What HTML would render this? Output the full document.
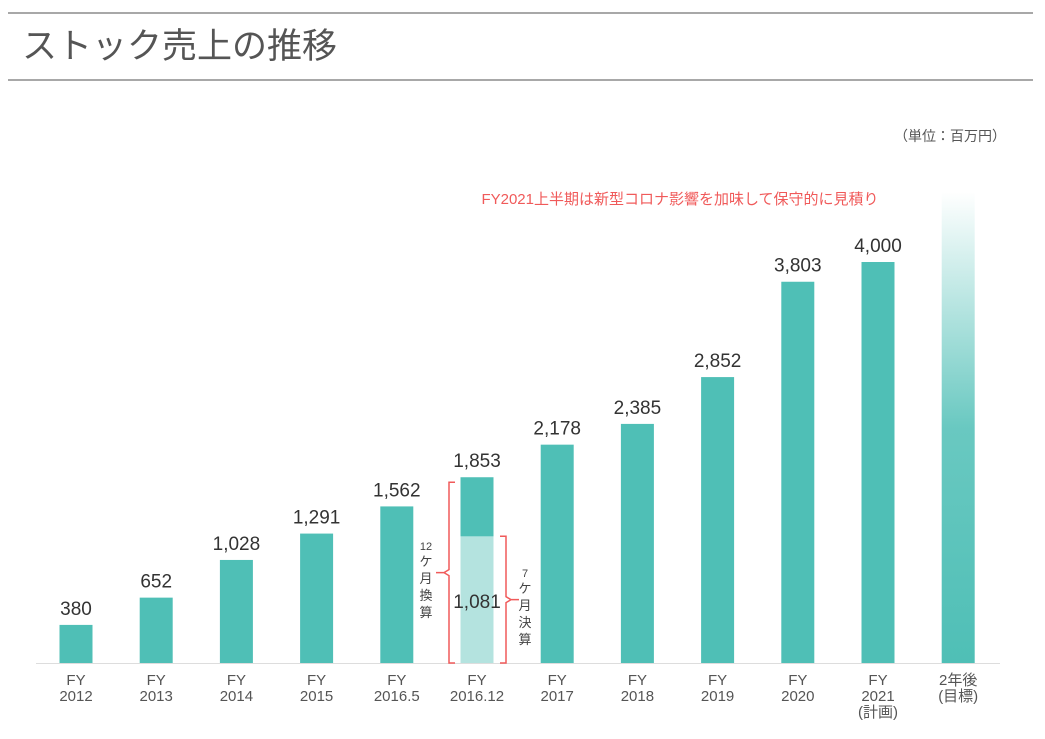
<!DOCTYPE html>
<html><head><meta charset="utf-8">
<style>
html,body{margin:0;padding:0;background:#fff;}
body{width:1045px;height:734px;overflow:hidden;font-family:"Liberation Sans","Noto Sans CJK JP",sans-serif;}
svg text{font-family:"Liberation Sans","Noto Sans CJK JP",sans-serif;}
</style></head>
<body>
<svg id="chart" width="1045" height="734" xmlns="http://www.w3.org/2000/svg">
<defs>
<linearGradient id="fade" x1="0" y1="0" x2="0" y2="1">
<stop offset="0" stop-color="#4fbfb6" stop-opacity="0"/>
<stop offset="0.5" stop-color="#4fbfb6" stop-opacity="0.85"/>
<stop offset="1" stop-color="#4fbfb6" stop-opacity="1"/>
</linearGradient>
</defs>
<line x1="8" y1="13" x2="1033" y2="13" stroke="#a8a8a8" stroke-width="2"/>
<text x="22" y="58" font-size="35" fill="#555">ストック売上の推移</text>
<line x1="8" y1="80" x2="1033" y2="80" stroke="#a8a8a8" stroke-width="2"/>
<text x="1006" y="141" font-size="14" fill="#555" text-anchor="end">（単位：百万円）</text>
<text x="680" y="204" font-size="15" fill="#f05a5a" text-anchor="middle">FY2021上半期は新型コロナ影響を加味して保守的に見積り</text>
<line x1="36" y1="663.5" x2="1000" y2="663.5" stroke="#ddd" stroke-width="1"/>
<g id="bars"></g>
</svg>
<script>
const categories1 = ["FY","FY","FY","FY","FY","FY","FY","FY","FY","FY","FY","2年後"];
const categories2 = ["2012","2013","2014","2015","2016.5","2016.12","2017","2018","2019","2020","2021","(目標)"];
const categories3 = ["","","","","","","","","","","(計画)",""];
const values = [380,652,1028,1291,1562,1853,2178,2385,2852,3803,4000,null];
const valueLabels = ["380","652","1,028","1,291","1,562","1,853","2,178","2,385","2,852","3,803","4,000",""];
const partialValue = 1264; // 7-month portion height of FY2016.12
const partialLabel = "1,081";
const targetValue = 4700;

const NS="http://www.w3.org/2000/svg";
const g=document.getElementById('bars');
const base=663, ppu=401/4000, x0=76, step=80.2, bw=33;
const y=v=>base-v*ppu;
const xc=i=>x0+i*step;
function mk(t,a,txt){const e=document.createElementNS(NS,t);for(const k in a)e.setAttribute(k,a[k]);if(txt!==undefined)e.textContent=txt;g.appendChild(e);return e;}
categories2.forEach((c,i)=>{
  const cx=xc(i);
  if(values[i]!==null){
    const r=mk('rect',{x:cx-bw/2,y:y(values[i]),width:bw,height:base-y(values[i]),fill:'#4fbfb6'});
    
    
    const t=mk('text',{x:cx,y:y(values[i])-10,'font-size':19,fill:'#333','text-anchor':'middle'},valueLabels[i]);
    
    
  } else {
    const r=mk('rect',{x:cx-bw/2,y:y(targetValue),width:bw,height:base-y(targetValue),fill:'url(#fade)'});
    
    
  }
  [categories1[i],c,categories3[i]].forEach((s,k)=>{
    if(!s)return;
    const t=mk('text',{x:cx,y:685+k*16,'font-size':15,fill:'#555','text-anchor':'middle'},s);
    
    
  });
});
// partial light bar
const pc=xc(5);
const pr=mk('rect',{x:pc-bw/2,y:y(partialValue),width:bw,height:base-y(partialValue),fill:'#b4e3df'});


const pt=mk('text',{x:pc,y:608,'font-size':19,fill:'#333','text-anchor':'middle'},partialLabel);


// brackets
const topL=y(values[5])+5, topR=y(partialValue);
const b1=mk('path',{d:`M455 ${topL} h-6 v${(base-topL)/2-3} l-5 3 l5 3 V${base} h6 M444 ${topL+(base-topL)/2} h-8`,fill:'none',stroke:'#f05a5a','stroke-width':1.5});


const b2=mk('path',{d:`M500 ${topR} h6 v${(base-topR)/2-3} l5 3 l-5 3 V${base} h-6 M511 ${topR+(base-topR)/2} h8`,fill:'none',stroke:'#f05a5a','stroke-width':1.5});


[["12",550,11],["ケ",566,13],["月",583,13],["換",600,13],["算",617,13]].forEach(a=>{
  const t=mk('text',{x:426,y:a[1],'font-size':a[2],fill:'#444','text-anchor':'middle'},a[0]);
  
  
});
[["7",577,11],["ケ",593,13],["月",610,13],["決",627,13],["算",644,13]].forEach(a=>{
  const t=mk('text',{x:525,y:a[1],'font-size':a[2],fill:'#444','text-anchor':'middle'},a[0]);
  
  
});
</script>
</body></html>
